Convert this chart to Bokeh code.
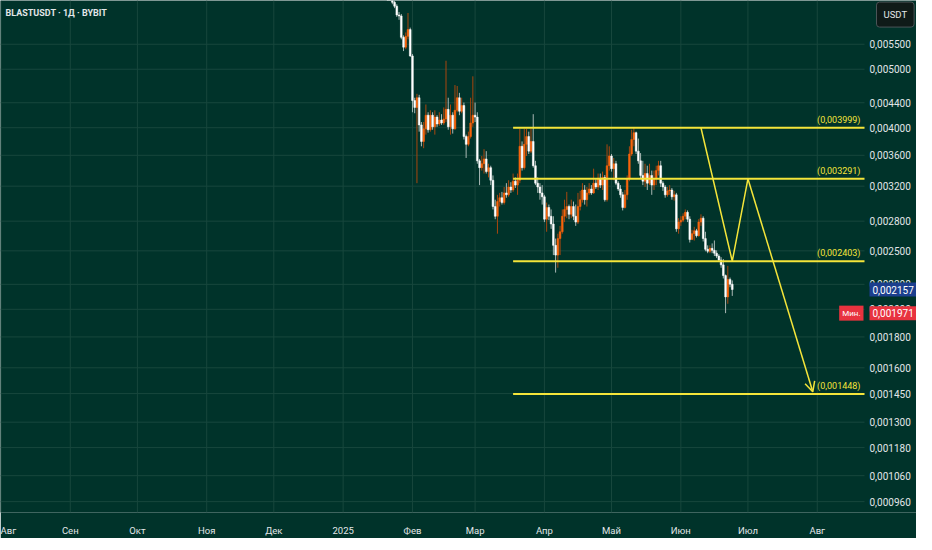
import pandas as pd
from bokeh.plotting import figure
from bokeh.models import (ColumnDataSource, FixedTicker, Label, Arrow, OpenHead, Range1d)
from bokeh.embed import file_html
from bokeh.resources import INLINE
from bokeh.core.properties import value

# ---------------- data ----------------
title_text = "BLASTUSDT · 1Д · BYBIT"
start_date = "2025-01-21"
first_open = 0.00745

close = [
    0.00730, 0.00700,
    0.006455, 0.006360, 0.006151, 0.006128, 0.005648, 0.005439, 0.005669, 0.005818, 0.005261, 0.004436,
    0.004322, 0.004485, 0.004043, 0.003796, 0.003983, 0.004196, 0.003969, 0.004196, 0.004013, 0.004165,
    0.004058, 0.004119, 0.004073, 0.004135, 0.004290, 0.004013, 0.004196, 0.003983, 0.004275, 0.004485,
    0.004259, 0.004354, 0.003867, 0.003754, 0.003867, 0.004073, 0.004196, 0.004165, 0.003525, 0.003434,
    0.003486, 0.003551, 0.003383, 0.003434, 0.003273, 0.002961, 0.002853, 0.003017, 0.003062, 0.003006,
    0.003119, 0.003096, 0.003190, 0.003154, 0.003261, 0.003213, 0.003273, 0.003726, 0.003434, 0.003754,
    0.003867, 0.003658, 0.003796, 0.003460, 0.003237, 0.003190, 0.003119, 0.003073, 0.002821, 0.002950,
    0.002853, 0.002770, 0.002553, 0.002460, 0.002620, 0.002689, 0.002853, 0.002928, 0.002961, 0.002874,
    0.002961, 0.002853, 0.002790, 0.002961, 0.003039, 0.003154, 0.003039, 0.003119, 0.003166, 0.003119,
    0.003237, 0.003190, 0.003297, 0.003213, 0.003309, 0.003039, 0.003460, 0.003591, 0.003421, 0.003486,
    0.003237, 0.003166, 0.003096, 0.002950, 0.003096, 0.003297, 0.003618, 0.003824, 0.003925, 0.003658,
    0.003525, 0.003334, 0.003261, 0.003358, 0.003237, 0.003334, 0.003213, 0.003297, 0.003396, 0.003460,
    0.003237, 0.003190, 0.003096, 0.003143, 0.003154, 0.003073, 0.003096, 0.002719, 0.002790, 0.002811,
    0.002853, 0.002896, 0.002821, 0.002610, 0.002669, 0.002699, 0.002649, 0.002790, 0.002832, 0.002620,
    0.002515, 0.002496, 0.002524, 0.002505, 0.002478, 0.002451, 0.002414, 0.002370, 0.002275, 0.002097,
    0.002242, 0.002201, 0.002157,
]

high = [
    0.00760, 0.00735,
    0.00705, 0.006503, 0.006407, 0.006220, 0.006174, 0.005690, 0.005754, 0.006197, 0.005861, 0.005300,
    0.004485, 0.004552, 0.004535, 0.004088, 0.004088, 0.004371, 0.004243, 0.004275, 0.004243, 0.004275,
    0.004196, 0.004243, 0.004212, 0.004322, 0.005165, 0.004485, 0.004371, 0.004243, 0.004707, 0.004690,
    0.004569, 0.004485, 0.004403, 0.003896, 0.003940, 0.004485, 0.004867, 0.004403, 0.004243, 0.003551,
    0.003591, 0.003685, 0.003658, 0.003486, 0.003460, 0.003334, 0.003039, 0.003096, 0.003119, 0.003131,
    0.003190, 0.003237, 0.003273, 0.003249, 0.003358, 0.003309, 0.003358, 0.003983, 0.003796, 0.003983,
    0.003983, 0.003940, 0.003983, 0.004212, 0.003525, 0.003309, 0.003237, 0.003213, 0.003096, 0.003006,
    0.002983, 0.002928, 0.002853, 0.002620, 0.002669, 0.002750, 0.002928, 0.003039, 0.003131, 0.002983,
    0.003039, 0.003017, 0.002983, 0.003119, 0.003143, 0.003237, 0.003213, 0.003190, 0.003237, 0.003213,
    0.003421, 0.003285, 0.003358, 0.003358, 0.003383, 0.003340, 0.003754, 0.003726, 0.003618, 0.003564,
    0.003525, 0.003261, 0.003213, 0.003131, 0.003154, 0.003334, 0.003726, 0.003969, 0.003998, 0.003940,
    0.003838, 0.003631, 0.003525, 0.003486, 0.003460, 0.003486, 0.003396, 0.003396, 0.003460, 0.003525,
    0.003525, 0.003261, 0.003213, 0.003190, 0.003213, 0.003178, 0.003143, 0.003119, 0.002832, 0.002853,
    0.002885, 0.002928, 0.002917, 0.002853, 0.002709, 0.002740, 0.002719, 0.002821, 0.002874, 0.002853,
    0.002689, 0.002553, 0.002553, 0.002572, 0.002601, 0.002505, 0.002469, 0.002441, 0.002423, 0.002284,
    0.002361, 0.002258, 0.002233,
]

low = [
    0.00722, 0.00690,
    0.006407, 0.006313, 0.006106, 0.006038, 0.005606, 0.005359, 0.005399, 0.005606, 0.005242, 0.004243,
    0.004227, 0.003237, 0.003940, 0.003726, 0.003699, 0.003896, 0.003925, 0.003940, 0.003969, 0.003896,
    0.004013, 0.004028, 0.004043, 0.004043, 0.004088, 0.003969, 0.003896, 0.003911, 0.003969, 0.004243,
    0.004196, 0.004227, 0.003824, 0.003564, 0.003726, 0.003838, 0.004013, 0.004088, 0.003486, 0.003213,
    0.003396, 0.003358, 0.003358, 0.003309, 0.003213, 0.002928, 0.002821, 0.002669, 0.002961, 0.002983,
    0.002983, 0.003062, 0.003073, 0.003119, 0.003131, 0.003178, 0.003096, 0.003237, 0.003396, 0.003409,
    0.003591, 0.003618, 0.003631, 0.003434, 0.003213, 0.003119, 0.003039, 0.002983, 0.002790, 0.002689,
    0.002811, 0.002719, 0.002460, 0.002301, 0.002344, 0.002460, 0.002669, 0.002790, 0.002832, 0.002821,
    0.002832, 0.002811, 0.002750, 0.002770, 0.002917, 0.003006, 0.002983, 0.002961, 0.003096, 0.003096,
    0.003108, 0.003166, 0.003154, 0.003178, 0.003154, 0.003017, 0.003017, 0.003396, 0.003383, 0.003273,
    0.003213, 0.003143, 0.003062, 0.002917, 0.002939, 0.003039, 0.003261, 0.003591, 0.003726, 0.003618,
    0.003486, 0.003297, 0.003213, 0.003190, 0.003154, 0.003213, 0.003096, 0.003154, 0.003213, 0.003334,
    0.003190, 0.003143, 0.003062, 0.003073, 0.003096, 0.003039, 0.003028, 0.002689, 0.002669, 0.002750,
    0.002790, 0.002821, 0.002790, 0.002581, 0.002610, 0.002600, 0.002630, 0.002640, 0.002750, 0.002591,
    0.002496, 0.002478, 0.002478, 0.002478, 0.002451, 0.002432, 0.002396, 0.002344, 0.002250, 0.001971,
    0.002043, 0.002176, 0.002105,
]

month_ticks = ["2024-08-01", "2024-09-01", "2024-10-01", "2024-11-01", "2024-12-01", "2025-01-01",
               "2025-02-01", "2025-03-01", "2025-04-01", "2025-05-01", "2025-06-01", "2025-07-01",
               "2025-08-01"]
month_labels = ["Авг", "Сен", "Окт", "Ноя", "Дек", "2025", "Фев", "Мар", "Апр", "Май", "Июн",
                "Июл", "Авг"]
price_ticks = [0.0055, 0.005, 0.0044, 0.004, 0.0036, 0.0032, 0.0028, 0.0025, 0.0022, 0.002,
               0.0018, 0.0016, 0.00145, 0.0013, 0.00118, 0.00106, 0.00096]
price_labels = ["0,005500", "0,005000", "0,004400", "0,004000", "0,003600", "0,003200",
                "0,002800", "0,002500", "0,002200", "0,002000", "0,001800", "0,001600",
                "0,001450", "0,001300", "0,001180", "0,001060", "0,000960"]

levels = [0.003999, 0.003291, 0.002403, 0.001448]
level_texts = ["(0,003999)", "(0,003291)", "(0,002403)", "(0,001448)"]
level_start = "2025-03-18"
path_dates = ["2025-06-10", "2025-06-24", "2025-07-01", "2025-07-30"]
path_prices = [0.003999, 0.002403, 0.003291, 0.00146]
last_price = 0.002157
last_text = "0,002157"
min_price = 0.001971
min_text = "0,001971"
view_start = "2024-07-31 19:00"
view_end = "2025-08-22 03:00"
price_min, price_max = 0.000921, 0.0065

# ---------------- helpers ----------------
ORIGIN = pd.Timestamp("2025-01-01")


def day(d):
    return (pd.Timestamp(d) - ORIGIN).total_seconds() / 86400.0


dates = pd.date_range(start_date, periods=len(close), freq="D")
xs = [(d - ORIGIN).total_seconds() / 86400.0 for d in dates]
opens = [first_open] + close[:-1]

BG = "#00332a"
GRID = "#17473d"
TXT = "#e2e6e8"
YEL = "#f4e53a"
UP, UP_W = "#f8650d", "#a8470f"
DN, DN_W = "#ffffff", "#a9b8b5"
FONT = "Roboto"

W, H = 916, 534
AXW, AXH = 52, 22          # price-scale width, time-scale height
FW, FH = W, H - AXH        # frame covers chart + price scale
x0, x1 = day(view_start), day(view_end)   # chart pane
dpp = (x1 - x0) / (FW - AXW)              # days per pixel
xr_end = x1 + AXW * dpp

up_idx = [i for i in range(len(close)) if close[i] >= opens[i]]
dn_idx = [i for i in range(len(close)) if close[i] < opens[i]]


def src(idx):
    return ColumnDataSource(dict(
        x=[xs[i] for i in idx],
        h=[high[i] for i in idx], l=[low[i] for i in idx],
        top=[max(opens[i], close[i]) for i in idx],
        bot=[min(opens[i], close[i]) for i in idx],
    ))


p = figure(frame_width=FW, frame_height=FH, y_axis_type="log",
           x_range=Range1d(x0, xr_end), y_range=Range1d(price_min, price_max),
           output_backend="svg", toolbar_location=None,
           background_fill_color=BG, border_fill_color=BG, outline_line_color=None,
           min_border_left=0, min_border_top=0, min_border_right=0, min_border_bottom=AXH)

# time axis
xt = [day(d) for d in month_ticks]
p.xaxis.ticker = FixedTicker(ticks=xt)
p.xaxis.major_label_overrides = {t: lab for t, lab in zip(xt, month_labels)}
ax = p.xaxis[0]
ax.axis_line_color = None
ax.major_tick_line_color = None
ax.minor_tick_line_color = None
ax.major_label_text_color = TXT
ax.major_label_text_font = FONT
ax.major_label_text_font_size = "9.5px"
ax.major_label_standoff = 6
p.yaxis.visible = False
p.xgrid.visible = False
p.ygrid.visible = False

# grid of the chart pane
p.segment(x0=xt, y0=[price_min] * len(xt), x1=xt, y1=[price_max] * len(xt),
          line_color=GRID, line_width=1)
p.segment(x0=[x0] * len(price_ticks), y0=price_ticks, x1=[x1] * len(price_ticks),
          y1=price_ticks, line_color=GRID, line_width=1)

# price scale labels
p.text(x=[x1 + 5 * dpp] * len(price_ticks), y=price_ticks, text=price_labels,
       text_align="left", text_baseline="middle", text_color=TXT, text_font=value(FONT),
       text_font_size="10px")

# candles
s_up, s_dn = src(up_idx), src(dn_idx)
p.segment(x0="x", y0="l", x1="x", y1="h", source=s_up, line_color=UP_W, line_width=1)
p.segment(x0="x", y0="l", x1="x", y1="h", source=s_dn, line_color=DN_W, line_width=1)
p.vbar(x="x", width=0.78, top="top", bottom="bot", source=s_up, fill_color=UP, line_color=UP,
       line_width=0.5)
p.vbar(x="x", width=0.78, top="top", bottom="bot", source=s_dn, fill_color=DN, line_color=DN,
       line_width=0.5)

# horizontal levels
ls = day(level_start)
p.segment(x0=[ls] * len(levels), y0=levels, x1=[x1] * len(levels), y1=levels,
          line_color=YEL, line_width=2)
p.text(x=[x1 - 4 * dpp] * len(levels), y=levels, text=level_texts, text_align="right",
       text_baseline="bottom", y_offset=-3, text_color=YEL, text_font=value(FONT),
       text_font_size="9px")

# projected path
px = [day(d) for d in path_dates]
p.line(px[:3], path_prices[:3], line_color=YEL, line_width=1.5)
p.add_layout(Arrow(end=OpenHead(size=10, line_color=YEL, line_width=1.5),
                   x_start=px[2], y_start=path_prices[2], x_end=px[3], y_end=path_prices[3],
                   line_color=YEL, line_width=1.5))

# title
p.add_layout(Label(x=x0 + 5 * dpp, y=0.00619, text=title_text, text_baseline="middle",
                   text_color=TXT, text_font=FONT, text_font_size="9px",
                   text_font_style="bold"))

# price-scale badges
p.add_layout(Label(x=x1 + 12 * dpp, y=0.00616, text="USDT", text_baseline="middle",
                   text_color=TXT, text_font=FONT, text_font_size="9.5px",
                   background_fill_color="#0f1a18", border_line_color="#4b5457",
                   padding=7, border_radius=3))
p.add_layout(Label(x=x1 + 5 * dpp, y=last_price, text=last_text, text_baseline="middle",
                   text_color="#ffffff", text_font=FONT, text_font_size="10px",
                   background_fill_color="#1c3f8e", padding=3))
p.add_layout(Label(x=x1 + 5 * dpp, y=min_price, text=min_text, text_baseline="middle",
                   text_color="#ffffff", text_font=FONT, text_font_size="10px",
                   background_fill_color="#e8333f", padding=3))
p.add_layout(Label(x=x1 - 1 * dpp, y=min_price, text="Мин.", text_baseline="middle",
                   text_align="right", text_color="#ffffff", text_font=FONT,
                   text_font_size="8px", background_fill_color="#e8333f", padding=3))

open("out.html", "w").write(file_html(p, INLINE))
